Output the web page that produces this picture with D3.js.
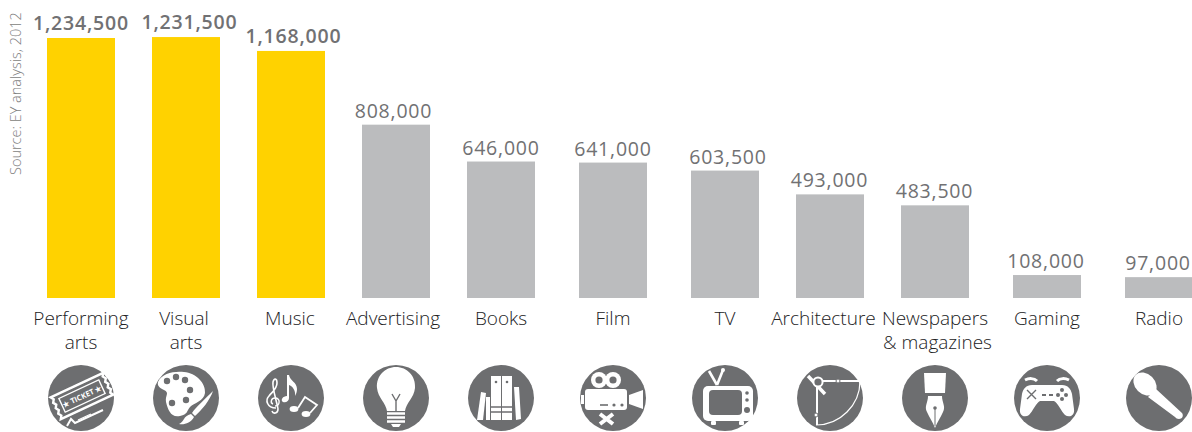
<!DOCTYPE html>
<html>
<head>
<meta charset="utf-8">
<script src="https://cdn.jsdelivr.net/npm/d3@7"></script>
<style>
    html, body { margin: 0; padding: 0; background: #fff; }
    svg { display: block; }
    text { font-family: "Open Sans", sans-serif; }
</style>
</head>
<body>
<div id="chart"></div>
<script>
var categories = ['Performing arts', 'Visual arts', 'Music', 'Advertising', 'Books', 'Film', 'TV', 'Architecture', 'Newspapers & magazines', 'Gaming', 'Radio'];
var values = [1234500, 1231500, 1168000, 808000, 646000, 641000, 603500, 493000, 483500, 108000, 97000];
// heights as the bars are really drawn in the picture (not quite the printed numbers)
var barValues = [1234500, 1239000, 1173000, 823000, 648000, 643000, 605000, 492000, 440000, 109000, 99000];
var highlighted = ['Performing arts', 'Visual arts', 'Music'];
var labelLines = [['Performing', 'arts'], ['Visual', 'arts'], ['Music'], ['Advertising'], ['Books'], ['Film'], ['TV'], ['Architecture'], ['Newspapers', '& magazines'], ['Gaming'], ['Radio']];
var iconNames = ['ticket', 'palette', 'music', 'bulb', 'books', 'film', 'tv', 'compass', 'pen', 'pad', 'mic'];

var width = 1192;
var height = 432;
var baseY = 298;
var barWidth = 68;
var iconY = 398;
var iconR = 33;
var dark = '#6d6e70';

// labels in the original sit a little off their bars
var valueShift = [0, 3.5, 2.5, -2.5, 0, 0, 3, -0.5, -0.5, -1, -1];
var lineShift = [[0, 0], [-2, 0], [-1], [-3], [0], [0], [0], [-6.5], [0, 2.5], [0], [0]];

var svg = d3.select('#chart').append('svg')
    .attr('width', width)
    .attr('height', height);

// the columns are not evenly spaced in the original
var x = d3.scaleOrdinal()
    .domain(categories)
    .range([81, 186, 291, 396, 501, 613, 725, 830, 935, 1047, 1159]);

var y = d3.scaleLinear()
    .domain([0, 1234500])
    .range([baseY, 38]);

var fmt = d3.format(',');

function isHigh(d) {
    return highlighted.indexOf(d) >= 0;
}

svg.selectAll('rect.bar')
    .data(categories)
    .enter()
    .append('rect')
    .attr('class', 'bar')
    .attr('x', function(d) { return x(d) - barWidth / 2; })
    .attr('width', barWidth)
    .attr('y', function(d, i) { return y(barValues[i]); })
    .attr('height', function(d, i) { return baseY - y(barValues[i]); })
    .attr('fill', function(d) { return isHigh(d) ? '#ffd200' : '#bbbcbe'; });

svg.selectAll('text.value')
    .data(categories)
    .enter()
    .append('text')
    .attr('class', 'value')
    .attr('x', function(d, i) { return x(d) + valueShift[i]; })
    .attr('y', function(d, i) { return y(barValues[i]) - (isHigh(d) ? 8 : 7); })
    .attr('text-anchor', 'middle')
    .attr('font-size', 19.5)
    .attr('letter-spacing', 0.8)
    .attr('font-weight', function(d) { return isHigh(d) ? 600 : 400; })
    .attr('fill', '#717173')
    .text(function(d, i) { return fmt(values[i]); });

var catLabels = svg.selectAll('text.cat')
    .data(categories)
    .enter()
    .append('text')
    .attr('class', 'cat')
    .attr('text-anchor', 'middle')
    .attr('font-size', 19)
    .attr('font-weight', 300)
    .attr('fill', '#222224');

catLabels.each(function(d, i) {
    var t = d3.select(this);
    labelLines[i].forEach(function(line, j) {
        t.append('tspan')
            .attr('x', x(d) + lineShift[i][j])
            .attr('y', 325 + j * 24)
            .text(line);
    });
});

svg.append('text')
    .attr('transform', 'translate(21,175) rotate(-90)')
    .attr('font-size', 14.5)
    .attr('font-weight', 300)
    .attr('fill', '#7e7e80')
    .text('Source: EY analysis, 2012');

// icons, each one drawn round the centre of its circle
function shape(g, d, fill) {
    return g.append('path').attr('d', d).attr('fill', fill || '#fff');
}
function line(g, d, w, colour) {
    return g.append('path').attr('d', d).attr('fill', 'none')
        .attr('stroke', colour || '#fff').attr('stroke-width', w);
}
function dot(g, cx, cy, r, fill) {
    return g.append('circle').attr('cx', cx).attr('cy', cy).attr('r', r).attr('fill', fill || '#fff');
}
function box(g, bx, by, w, h, rx, fill) {
    return g.append('rect').attr('x', bx).attr('y', by).attr('width', w).attr('height', h)
        .attr('rx', rx).attr('fill', fill || '#fff');
}

var icons = {
    ticket: function(g) {
        line(g, 'M-14,28 L-10,21 L-6,25 L22,12', 2);
        line(g, 'M-3,22 L10,16', 1.2);
        var t = g.append('g').attr('transform', 'translate(1,-2) rotate(-25)');
        shape(t, 'M-29,-12 L29,-12 L27,-9 L29,-6 L27,-3 L29,0 L27,3 L29,6 L27,9 L29,12 L-29,12 L-27,9 L-29,6 L-27,3 L-29,0 L-27,-3 L-29,-6 L-27,-9 Z')
            .attr('fill', dark).attr('stroke', '#fff').attr('stroke-width', 2.4);
        t.append('rect').attr('x', -22).attr('y', -7.5).attr('width', 44).attr('height', 15)
            .attr('fill', 'none').attr('stroke', '#fff').attr('stroke-width', 1.4);
        t.append('text').attr('text-anchor', 'middle').attr('y', 3)
            .attr('font-size', 7.5).attr('font-weight', 700).attr('fill', '#fff').text('★ TICKET ★');
    },
    palette: function(g) {
        shape(g, 'M-28,-16 C-24,-25 -12,-27 -2,-26 C10,-25 20,-15 19,-5 C18,3 8,5 4,9 C0,14 2,16 -6,18 C-15,20 -18,12 -20,4 C-21,-3 -16,-5 -22,-8 C-26,-10 -29,-12 -28,-16 Z');
        [[-19, -17], [-10, -21], [-1, -18], [4, -8], [0, 2], [-14, 5]].forEach(function(h) {
            dot(g, h[0], h[1], 3.2, dark);
        });
        shape(g, 'M27,-7 C20,0 10,9 6,15 L9,18 C16,12 24,2 27,-7 Z');
        shape(g, 'M5,16 C1,17 -1,19 -2,21 C-4,24 -5,25 -7,26 C-2,27 5,25 8,19 Z');
    },
    music: function(g) {
        // treble clef
        line(g, 'M-15,10 C-24,10 -26,2 -22,-2 C-19,-6 -14,-9 -14,-15 C-14,-20 -17,-20 -18,-16 C-19,-10 -14,4 -13,11 C-13,16 -18,16 -19,13', 1.6);
        line(g, 'M-16,8 C-11,8 -10,0 -16,0 C-20,0 -21,5 -18,6', 1.4);
        // eighth note
        shape(g, 'M-4,-23 L-2,-23 C-1,-17 6,-16 6,-9 C6,-6 5,-4 4,-2 C5,-8 1,-12 -2,-13 L-2,0 C-2,3 -5,5 -8,4 C-11,2 -8,-2 -4,-2 Z');
        // beamed notes
        line(g, 'M7,10 L14,-1 L26,7 L19,15', 1.8);
        g.append('ellipse').attr('cx', 3).attr('cy', 11).attr('rx', 4.4).attr('ry', 3).attr('fill', '#fff');
        g.append('ellipse').attr('cx', 15).attr('cy', 16).attr('rx', 4.4).attr('ry', 3).attr('fill', '#fff');
    },
    bulb: function(g) {
        shape(g, 'M-9,13 C-10,5 -18,0 -19,-10 C-20,-22 -11,-31 0,-31 C11,-31 20,-22 19,-10 C18,0 10,5 9,13 Z');
        line(g, 'M0,13 L0,3 M0,3 L-4,-4 M0,3 L4,-4', 1.4, dark);
        line(g, 'M-9,15.5 L9,15.5 M-9,19.5 L9,19.5 M-9,23.5 L9,23.5', 2.4);
        shape(g, 'M-5,26 L5,26 L3,29 L-3,29 Z');
    },
    books: function(g) {
        box(g, -10, -22, 10, 44, 0);
        box(g, 1, -22, 10, 44, 0);
        dot(g, -5, -16, 1.3, dark);
        dot(g, 6, -16, 1.3, dark);
        line(g, 'M-10,9 L11,9 M-10,14 L11,14', 1.3, dark);
        shape(g, 'M-20,-6 L-15,-5 L-18,22 L-24,22 Z');
        box(g, -15, -1, 4, 23, 0);
        shape(g, 'M13,-11 L18,-11 L20,21 L15,22 Z');
    },
    film: function(g) {
        dot(g, -14, -18, 8);
        dot(g, 0, -18, 8);
        dot(g, -14, -18, 3.6, dark);
        dot(g, 0, -18, 3.6, dark);
        box(g, -28, -9, 42, 21, 3);
        box(g, -32, -3, 3, 9, 0);
        shape(g, 'M16,-3 L30,-8 L30,11 L16,6 Z');
        line(g, 'M-13,7 L-5,7', 1.6, dark);
        dot(g, 1, 7, 1.6, dark);
        dot(g, 9, 7, 1.6, dark);
        line(g, 'M-13,16 L0,26 M0,16 L-13,26', 4);
    },
    tv: function(g) {
        line(g, 'M-8,-13 L-16,-27 M-8,-13 L-2,-28', 2.6);
        dot(g, -2, -28, 2);
        box(g, -22, -12, 50, 35, 5);
        box(g, -16, -8, 33, 25, 4, dark);
        dot(g, 22, -5, 1.8, dark);
        dot(g, 22, 2, 1.8, dark);
        dot(g, 22, 12, 3, dark);
        box(g, -14, 23, 5, 4, 1);
        box(g, 14, 23, 5, 4, 1);
    },
    compass: function(g) {
        line(g, 'M30,-17 C30,7 10,27 -14,27', 1.2);
        line(g, 'M-12,-17 L29,-17', 2);
        line(g, 'M-13,-15 L-13,27', 2);
        line(g, 'M-22,-22 L-5,-4', 3.4);
        dot(g, -12, -16, 4.6, dark).attr('stroke', '#fff').attr('stroke-width', 2);
        dot(g, 8, -17, 2).attr('stroke', dark);
        dot(g, -14, 17, 2).attr('stroke', dark);
    },
    pen: function(g) {
        shape(g, 'M-11,-25 L11,-25 L10,-5 L-10,-5 Z');
        shape(g, 'M-7,-2 L7,-2 C7,5 11,8 8,14 C6,19 2,24 0,30 C-2,24 -6,19 -8,14 C-11,8 -7,5 -7,-2 Z');
        line(g, 'M0,11 L0,28', 1, dark);
        dot(g, 0, 10, 1.8, dark);
    },
    pad: function(g) {
        shape(g, 'M-15,-13 L15,-13 C21,-13 24,-9 25,-4 L27,11 C28,18 22,20 18,17 C14,13 11,5 7,3 L-7,3 C-11,5 -14,13 -18,17 C-22,20 -28,18 -27,11 L-25,-4 C-24,-9 -21,-13 -15,-13 Z');
        line(g, 'M-22,-18 C-18,-20 -13,-20 -10,-17', 3);
        line(g, 'M22,-18 C18,-20 13,-20 10,-17', 3);
        line(g, 'M-20,-8 L-11,1 M-11,-8 L-20,1', 1.4, dark);
        line(g, 'M-5,-3 L-1,-3 M2,-3 L6,-3', 1.8, dark);
        [[15, -8], [11, -3], [19, -3], [15, 1]].forEach(function(b) {
            dot(g, b[0], b[1], 2, dark);
        });
    },
    mic: function(g) {
        g.append('ellipse').attr('cx', -14).attr('cy', -14).attr('rx', 13).attr('ry', 10)
            .attr('transform', 'rotate(45 -14 -14)').attr('fill', '#fff');
        shape(g, 'M-11,-1 L-3,-9 L23,15 C25,18 23,21 20,21 C18,21 17,20 16,19 Z');
    }
};

var iconGroups = svg.selectAll('g.icon')
    .data(categories)
    .enter()
    .append('g')
    .attr('class', 'icon')
    .attr('transform', function(d) { return 'translate(' + x(d) + ',' + iconY + ')'; });

iconGroups.each(function(d, i) {
    var g = d3.select(this);
    g.append('circle').attr('r', iconR).attr('fill', dark);
    icons[iconNames[i]](g);
});
</script>
</body>
</html>
